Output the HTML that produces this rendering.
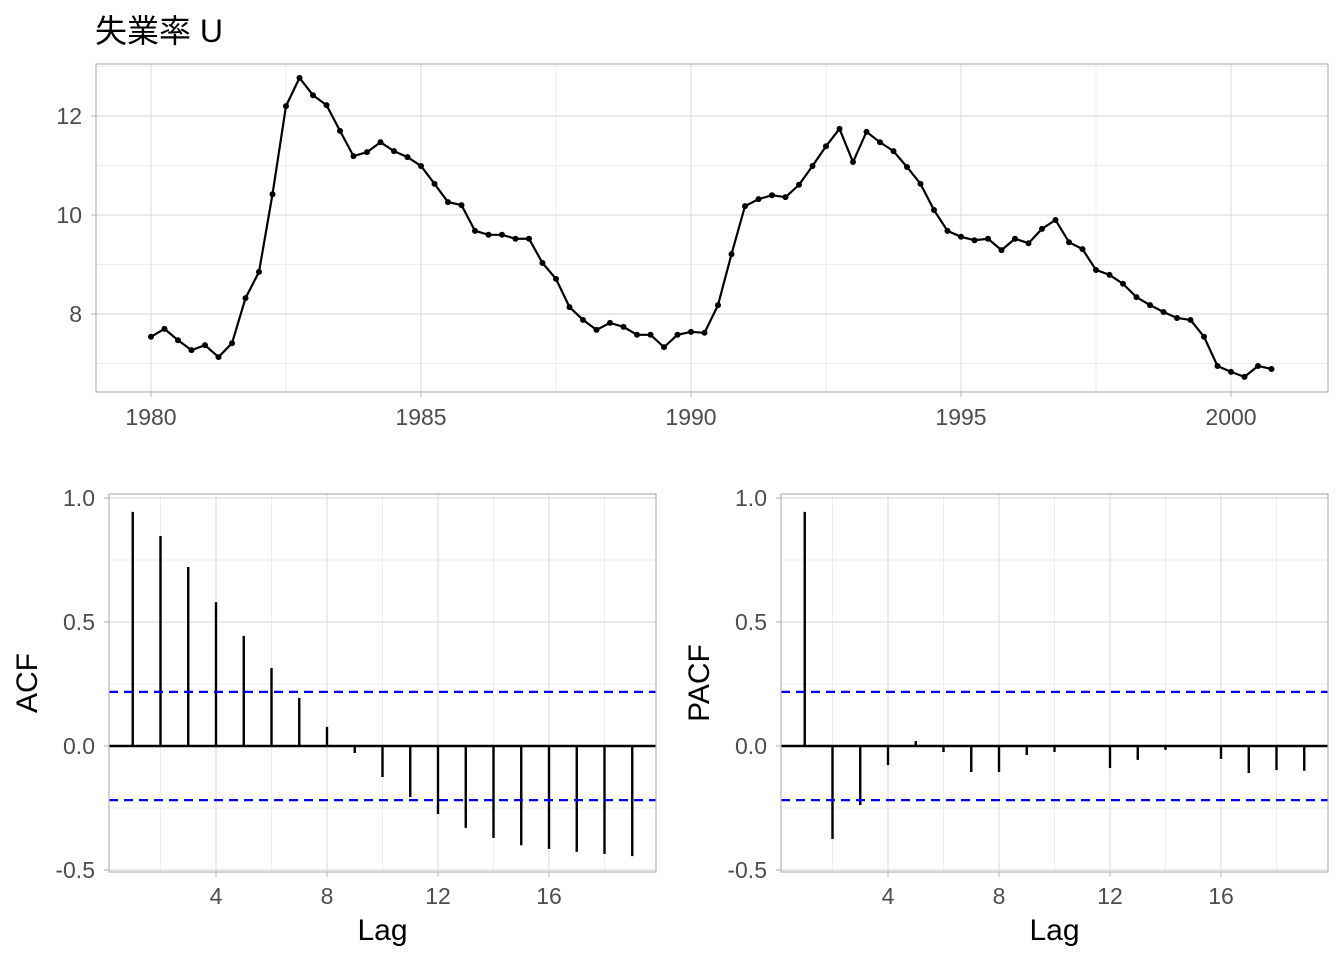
<!DOCTYPE html>
<html><head><meta charset="utf-8">
<style>
body{margin:0;background:#fff;}
svg{display:block;font-family:"Liberation Sans","Noto Sans CJK JP",sans-serif;}
</style></head>
<body>
<svg id="chart" width="1344" height="960" viewBox="0 0 1344 960">
<text x="95" y="42" font-size="32" fill="#000">失業率 U</text>
</svg>
<script>
const seriesValues=[7.54,7.70,7.47,7.27,7.37,7.13,7.41,8.32,8.85,10.42,12.20,12.77,12.42,12.22,11.70,11.19,11.27,11.47,11.29,11.17,10.99,10.63,10.26,10.20,9.68,9.60,9.60,9.52,9.52,9.03,8.71,8.14,7.88,7.68,7.82,7.74,7.58,7.58,7.33,7.58,7.64,7.62,8.18,9.21,10.18,10.32,10.40,10.36,10.61,10.99,11.39,11.74,11.07,11.68,11.47,11.29,10.97,10.63,10.10,9.68,9.56,9.49,9.52,9.29,9.52,9.43,9.72,9.90,9.45,9.31,8.89,8.79,8.61,8.34,8.18,8.04,7.92,7.88,7.54,6.95,6.83,6.73,6.95,6.89];
const startYear=1980;
const acfValues=[0.944,0.847,0.722,0.58,0.444,0.315,0.194,0.077,-0.028,-0.125,-0.206,-0.274,-0.33,-0.371,-0.40,-0.415,-0.427,-0.435,-0.444];
const pacfValues=[0.944,-0.375,-0.238,-0.077,0.02,-0.024,-0.105,-0.105,-0.036,-0.024,-0.004,-0.089,-0.056,-0.016,-0.004,-0.052,-0.109,-0.097,-0.1];
const yearTicks=[1980,1985,1990,1995,2000];
const levelTicks=[8,10,12];
const lagTicks=[4,8,12,16];
const corrTicks=[-0.5,0,0.5,1.0];

const NS="http://www.w3.org/2000/svg";
const svg=document.getElementById('chart');
function el(tag,attrs,parent){const e=document.createElementNS(NS,tag);for(const k in attrs)e.setAttribute(k,attrs[k]);(parent||svg).appendChild(e);return e;}
function txt(x,y,s,size,fill,anchor,name,rot){const t=el('text',{x:x,y:y,'font-size':size,fill:fill,'text-anchor':anchor});if(rot)t.setAttribute('transform',rot);t.textContent=s;


return t;}

// ---- Top panel ----
const P={l:96,r:1328,t:64,b:392};
const xs=v=>151+(v-1980)*54;
const ys=v=>314-(v-8)*49.5;
for(let v=1977.5;v<2003;v+=5){const x=xs(v);if(x>P.l&&x<P.r){const g=el('line',{x1:x,x2:x,y1:P.t,y2:P.b,stroke:'#ededed','stroke-width':1});}}
for(let v=7;v<=13;v+=2){const y=ys(v);if(y>P.t&&y<P.b){const g=el('line',{x1:P.l,x2:P.r,y1:y,y2:y,stroke:'#ededed','stroke-width':1});}}
yearTicks.forEach(v=>{const x=xs(v);const g=el('line',{x1:x,x2:x,y1:P.t,y2:P.b,stroke:'#dedede','stroke-width':1.2});
el('line',{x1:x,x2:x,y1:P.b,y2:P.b+5,stroke:'#b3b3b3'});
txt(x,P.b+33,String(v),23,'#4d4d4d','middle','x-tick-label');});
levelTicks.forEach(v=>{const y=ys(v);const g=el('line',{x1:P.l,x2:P.r,y1:y,y2:y,stroke:'#dedede','stroke-width':1.2});
el('line',{x1:P.l-5,x2:P.l,y1:y,y2:y,stroke:'#b3b3b3'});
txt(P.l-14,y+8,String(v),23,'#4d4d4d','end','y-tick-label');});
const pts=seriesValues.map((v,i)=>[xs(startYear+i*0.25),ys(v)]);
const line=el('polyline',{points:pts.map(p=>p.join(',')).join(' '),fill:'none',stroke:'#000','stroke-width':2.2});


pts.forEach(p=>{const c=el('circle',{cx:p[0],cy:p[1],r:3,fill:'#000'});

});
const b1=el('rect',{x:P.l,y:P.t,width:P.r-P.l,height:P.b-P.t,fill:'none',stroke:'#b3b3b3','stroke-width':1.2});



// ---- correlogram panels ----
function corr(left,vals,ylab,name){
const Q={l:left,r:left+547,t:494,b:872};
const lx=v=>left+107+(v-4)*27.75;
const ly=v=>746-v*248;
[2,6,10,14,18].forEach(v=>{const x=lx(v);const g=el('line',{x1:x,x2:x,y1:Q.t,y2:Q.b,stroke:'#ededed'});});
[-0.25,0.25,0.75].forEach(v=>{const y=ly(v);const g=el('line',{x1:Q.l,x2:Q.r,y1:y,y2:y,stroke:'#ededed'});});
lagTicks.forEach(v=>{const x=lx(v);const g=el('line',{x1:x,x2:x,y1:Q.t,y2:Q.b,stroke:'#dedede','stroke-width':1.2});
el('line',{x1:x,x2:x,y1:Q.b,y2:Q.b+5,stroke:'#b3b3b3'});
txt(x,Q.b+32,String(v),23,'#4d4d4d','middle','lag-tick-label');});
corrTicks.forEach(v=>{const y=ly(v);const g=el('line',{x1:Q.l,x2:Q.r,y1:y,y2:y,stroke:'#dedede','stroke-width':1.2});
el('line',{x1:Q.l-5,x2:Q.l,y1:y,y2:y,stroke:'#b3b3b3'});
txt(Q.l-14,y+8,v.toFixed(1),23,'#4d4d4d','end','corr-tick-label');});
const z=el('line',{x1:Q.l,x2:Q.r,y1:ly(0),y2:ly(0),stroke:'#000','stroke-width':2.4});


vals.forEach((v,i)=>{const x=lx(i+1);const s=el('line',{x1:x,x2:x,y1:ly(0),y2:ly(v),stroke:'#000','stroke-width':2.4});

});
const ci=2/Math.sqrt(seriesValues.length);
[ci,-ci].forEach(c=>{const d=el('line',{x1:Q.l,x2:Q.r,y1:ly(c),y2:ly(c),stroke:'#0000ff','stroke-width':2.2,'stroke-dasharray':'9,6'});

});
const b=el('rect',{x:Q.l,y:Q.t,width:Q.r-Q.l,height:Q.b-Q.t,fill:'none',stroke:'#b3b3b3','stroke-width':1.2});


txt((Q.l+Q.r)/2,Q.b+68,'Lag',30,'#000','middle',name+'-x-axis-title');
const yx=left-72,yy=(Q.t+Q.b)/2;
txt(yx,yy,ylab,30,'#000','middle',name+'-y-axis-title','rotate(-90 '+yx+' '+yy+')');
}
corr(109,acfValues,'ACF','acf');
corr(781,pacfValues,'PACF','pacf');
</script>
</body></html>
